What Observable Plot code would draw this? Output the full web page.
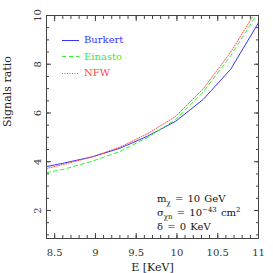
<!DOCTYPE html>
<html><head><meta charset="utf-8">
<script src="https://cdn.jsdelivr.net/npm/d3@7"></script>
<script src="https://cdn.jsdelivr.net/npm/@observablehq/plot@0.6"></script>
<style>
body{margin:0;background:#fff}
#c{position:relative;width:273px;height:273px;font-family:"DejaVu Serif",serif}
#legend{position:absolute;left:62px;top:32px;font-size:10px;line-height:16.5px}
#legend .row{display:flex;align-items:center;height:16.5px}
#legend svg{margin-right:5px}
#note{position:absolute;left:157px;top:192px;font-size:10px;line-height:14px;color:#111;white-space:nowrap;word-spacing:1px}
#note sub,#note sup{font-size:7px;line-height:0}
</style>
</head><body><div id="c"></div>
<script>
const energies = [8.4, 8.62, 8.96, 9.3, 9.64, 9.98, 10.32, 10.66, 11];
const burkert = [3.8, 3.95, 4.2, 4.55, 5.05, 5.65, 6.55, 7.8, 9.7];
const einasto = [3.55, 3.7, 4.02, 4.42, 5.0, 5.72, 6.85, 8.35, 10.15];
const nfw = [3.72, 3.9, 4.2, 4.6, 5.15, 5.85, 6.98, 8.5, 10.35];
const seriesNames = ["Burkert", "Einasto", "NFW"];
const seriesColors = ["#3535ff", "#33ee33", "#ff4a4a"];
const seriesDash = [null, "4,3", "1,1.5"];
const xMajor = [8.5, 9, 9.5, 10, 10.5, 11];
const xMinor = d3.range(84, 111).map(d => d / 10);
const yMajor = [2, 4, 6, 8, 10];
const yMinor = d3.range(2, 21).map(d => d / 2);
const xTitle = "E [KeV]";
const yTitle = "Signals ratio";

const seriesValues = [burkert, einasto, nfw];
const tables = seriesValues.map(vals => energies.map((e, i) => ({E: e, v: vals[i]})));
const tickOpts = {text: null, label: null, stroke: "#444"};
const fmt = d => String(d);

const plot = Plot.plot({
  width: 273, height: 273,
  marginLeft: 46, marginTop: 15, marginRight: 15, marginBottom: 35,
  style: {fontFamily: "DejaVu Serif, serif", fontSize: "10px", background: "white", color: "#000"},
  x: {domain: [8.4, 11]},
  y: {domain: [0.85, 10]},
  marks: [
    ...tables.map((t, i) => Plot.line(t, {x: "E", y: "v", stroke: seriesColors[i], strokeWidth: 1, strokeDasharray: seriesDash[i], clip: true})),
    Plot.frame({stroke: "#444", strokeWidth: 1}),
    Plot.axisX(xMajor, {anchor: "bottom", tickSize: -5, ...tickOpts}),
    Plot.axisX(xMinor, {anchor: "bottom", tickSize: -3, ...tickOpts}),
    Plot.axisX(xMajor, {anchor: "top", tickSize: -5, ...tickOpts}),
    Plot.axisX(xMinor, {anchor: "top", tickSize: -3, ...tickOpts}),
    Plot.axisY(yMajor, {anchor: "left", tickSize: -5, ...tickOpts}),
    Plot.axisY(yMinor, {anchor: "left", tickSize: -3, ...tickOpts}),
    Plot.axisY(yMajor, {anchor: "right", tickSize: -5, ...tickOpts}),
    Plot.axisY(yMinor, {anchor: "right", tickSize: -3, ...tickOpts}),
    Plot.axisX(xMajor, {anchor: "bottom", tickSize: 0, tickPadding: 10, tickFormat: fmt, fontSize: 10, label: null, fill: "#333"}),
    Plot.axisY(yMajor, {anchor: "left", tickSize: 0, tickPadding: 9, tickFormat: fmt, rotate: -90, textAnchor: "middle", fontSize: 10, label: null, fill: "#333"}),
    Plot.text([xTitle], {frameAnchor: "bottom", dy: 32, text: d => d, fontSize: 11, fill: "#222"}),
    Plot.text([yTitle], {frameAnchor: "left", dx: -39, rotate: -90, text: d => d, fontSize: 11, fill: "#222"})
  ]
});
const c = document.getElementById("c");
c.appendChild(plot);

const legend = document.createElement("div");
legend.id = "legend";
seriesNames.forEach((n, i) => {
  const row = document.createElement("div");
  row.className = "row";
  const dash = seriesDash[i] ? ` stroke-dasharray="${seriesDash[i]}"` : "";
  row.innerHTML = `<svg width="17" height="3"><line x1="0" x2="17" y1="1.5" y2="1.5" stroke="${seriesColors[i]}" stroke-width="1"${dash}/></svg>`;
  const lab = document.createElement("span");
  lab.textContent = n;
  lab.style.color = seriesColors[i];
  row.appendChild(lab);
  legend.appendChild(row);
});
c.appendChild(legend);

const note = document.createElement("div");
note.id = "note";
note.innerHTML = "m<sub>χ</sub> = 10 GeV<br>σ<sub>χn</sub> = 10<sup>−43</sup> cm<sup>2</sup><br>δ = 0 KeV";
c.appendChild(note);
</script></body></html>
